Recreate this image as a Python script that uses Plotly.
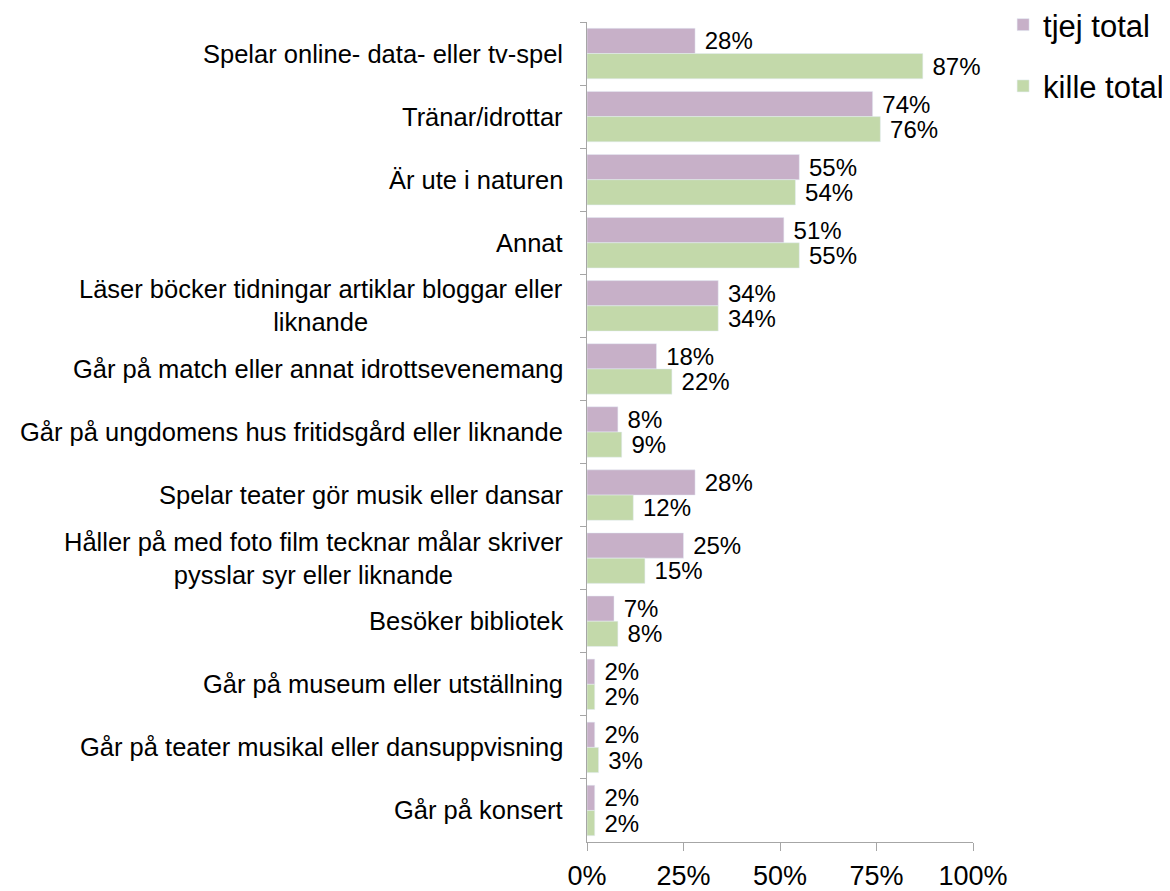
import plotly.graph_objects as go

categories = [
    "Spelar online- data- eller tv-spel",
    "Tränar/idrottar",
    "Är ute i naturen",
    "Annat",
    "Läser böcker tidningar artiklar bloggar eller<br>liknande",
    "Går på match eller annat idrottsevenemang",
    "Går på ungdomens hus fritidsgård eller liknande",
    "Spelar teater gör musik eller dansar",
    "Håller på med foto film tecknar målar skriver<br>pysslar syr eller liknande",
    "Besöker bibliotek",
    "Går på museum eller utställning",
    "Går på teater musikal eller dansuppvisning",
    "Går på konsert",
]
tjej_total = [28, 74, 55, 51, 34, 18, 8, 28, 25, 7, 2, 2, 2]
kille_total = [87, 76, 54, 55, 34, 22, 9, 12, 15, 8, 2, 3, 2]
x_tickvals = [0, 25, 50, 75, 100]
x_ticktext = ["0%", "25%", "50%", "75%", "100%"]

FONT = "Arial, Liberation Sans, sans-serif"
AXIS_GRAY = "#A6A6A6"

fig = go.Figure()
fig.add_trace(go.Bar(
    y=categories, x=tjej_total, orientation="h", name="tjej total",
    marker=dict(color="#C7B0C8"),
    text=[f" {v}%" for v in tjej_total], textposition="outside",
    textfont=dict(size=24, color="black", family=FONT),
    cliponaxis=False, constraintext="none", legendgroup="a",
))
fig.add_trace(go.Bar(
    y=categories, x=kille_total, orientation="h", name="kille total",
    marker=dict(color="#C3D9AA"),
    text=[f" {v}%" for v in kille_total], textposition="outside",
    textfont=dict(size=24, color="black", family=FONT),
    cliponaxis=False, constraintext="none", legendgroup="b",
))

for c in categories:
    fig.add_annotation(
        x=0, xref="paper", y=c, yref="y", text=c, showarrow=False,
        xanchor="right", yanchor="middle", align="center", xshift=-22,
        font=dict(size=25.5, color="black", family=FONT),
    )

fig.update_layout(
    width=1162, height=883,
    margin=dict(l=579, r=197, t=14, b=49, autoexpand=False),
    plot_bgcolor="white", paper_bgcolor="white",
    font=dict(family=FONT, color="black"),
    barmode="group", bargap=0.2, bargroupgap=0.0,
    showlegend=True,
    legend=dict(
        xref="paper", yref="paper", x=1.078, y=1.0293,
        xanchor="left", yanchor="top",
        font=dict(size=31, color="black", family=FONT),
        tracegroupgap=18, itemwidth=30, bgcolor="rgba(0,0,0,0)",
    ),
    xaxis=dict(
        range=[0, 100], tickvals=x_tickvals, ticktext=x_ticktext,
        showgrid=False, zeroline=False, showline=True, linecolor=AXIS_GRAY,
        ticks="outside", ticklen=8, tickcolor=AXIS_GRAY,
        tickfont=dict(size=27, color="black", family=FONT),
        ticklabelstandoff=2,
    ),
    yaxis=dict(
        type="category", autorange="reversed", showgrid=False, zeroline=False,
        showline=True, linecolor=AXIS_GRAY, ticks="outside", ticklen=6,
        tickcolor=AXIS_GRAY, tickson="boundaries", showticklabels=False,
    ),
)

fig.write_html("out.html")
